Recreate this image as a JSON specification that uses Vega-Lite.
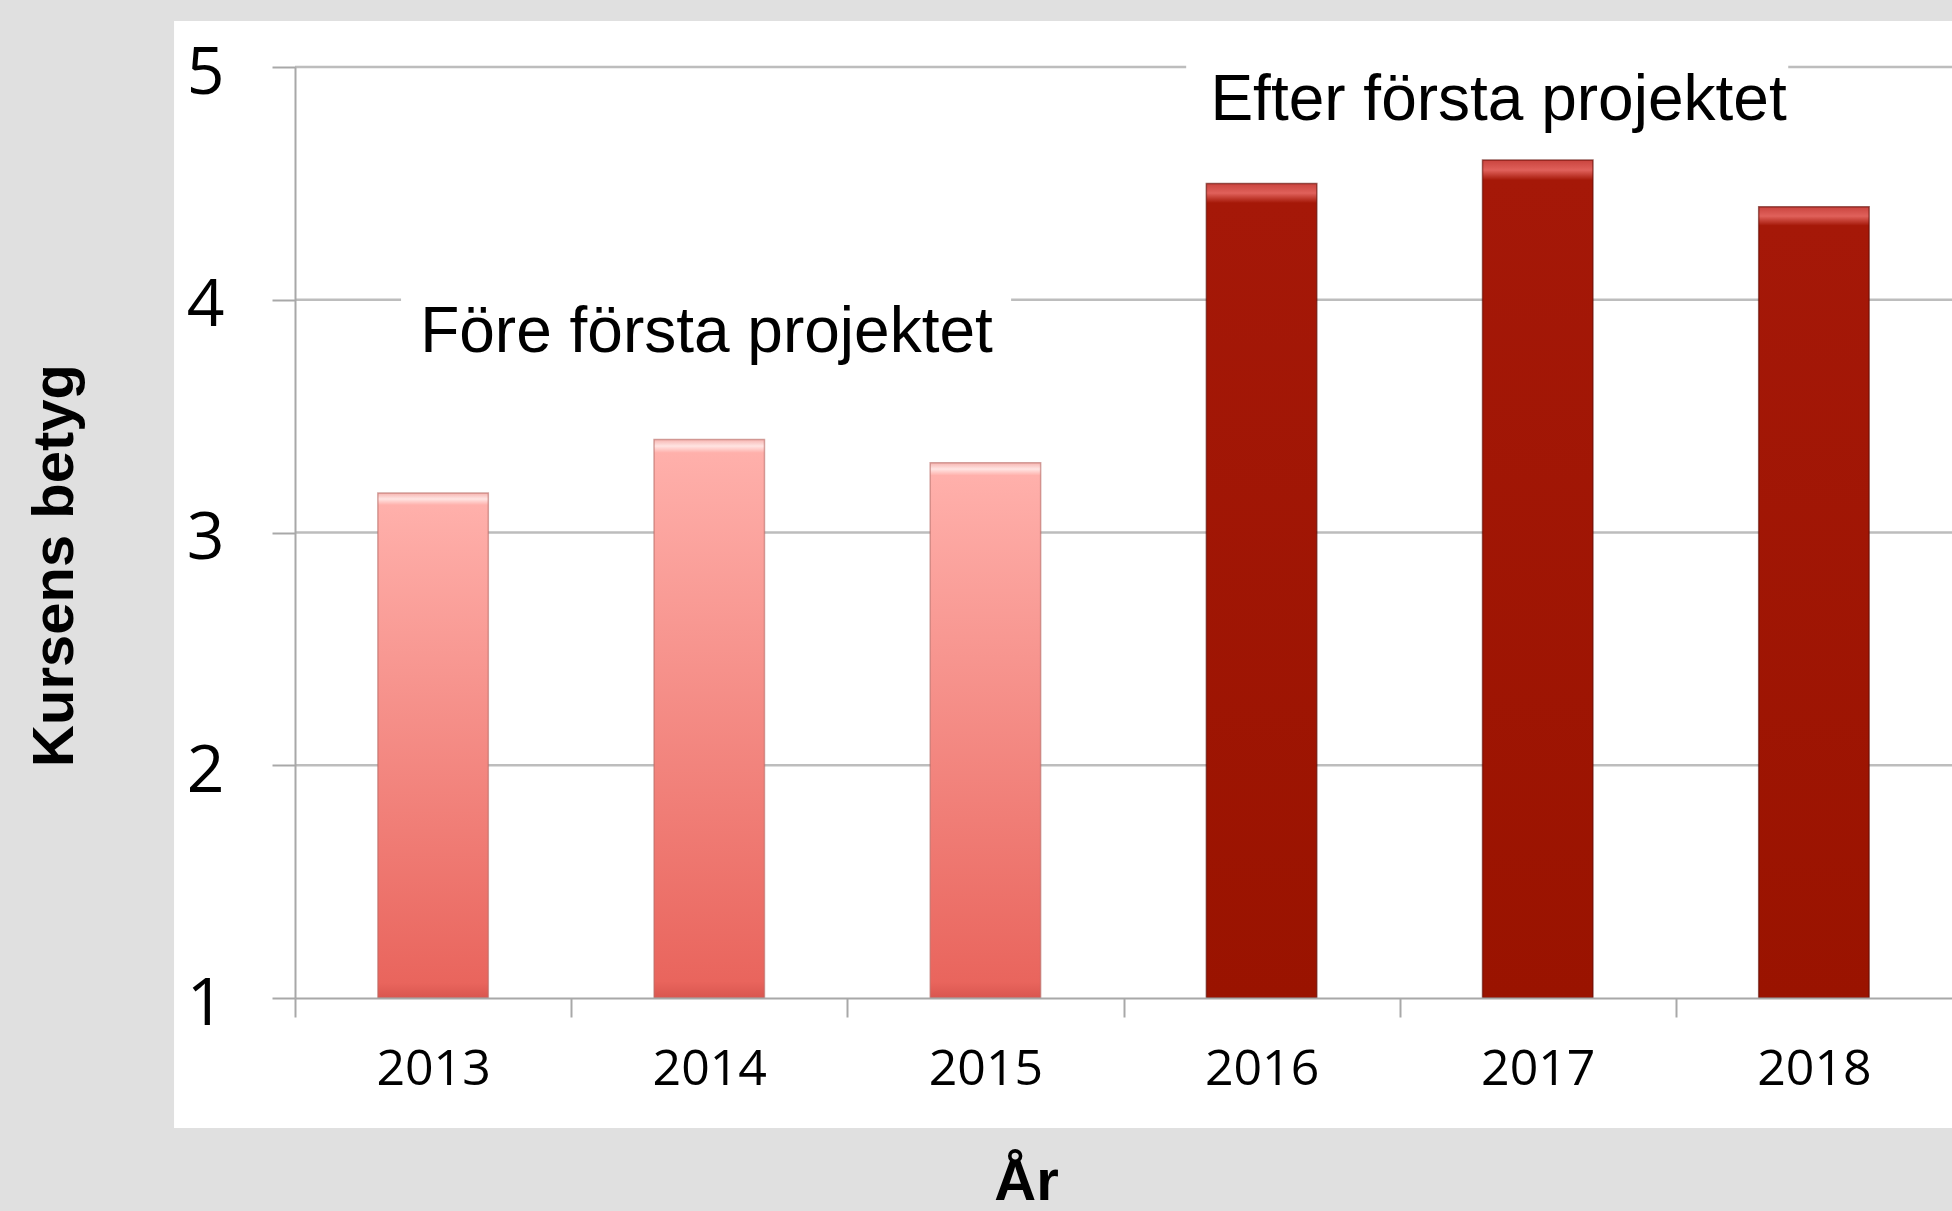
{
  "$schema": "https://vega.github.io/schema/vega-lite/v6.json",
  "width": 1657,
  "height": 931,
  "autosize": {"type": "none"},
  "padding": {"left": 295, "top": 67, "right": 0, "bottom": 213},
  "background": "#e0e0e0",
  "config": {
    "view": {"stroke": null},
    "axis": {
      "grid": false,
      "domainColor": "#a8a8a8",
      "domainWidth": 2,
      "tickColor": "#a8a8a8",
      "tickWidth": 2,
      "labelColor": "#000000",
      "titleColor": "#000000",
      "labelFont": "Open Sans",
      "titleFont": "Liberation Sans",
      "titleFontWeight": "bold",
      "titleFontSize": 58
    },
    "axisY": {
      "tickSize": 23,
      "labelFontSize": 66,
      "labelPadding": 48,
      "labelOffset": 6,
      "labelBaseline": "middle",
      "titleX": -223,
      "titleY": 498,
      "titleAngle": -90,
      "titleAlign": "center",
      "titleBaseline": "alphabetic"
    }
  },
  "datasets": {
    "betyg": [
      {"year": "2013", "value": 3.17, "fas": "före"},
      {"year": "2014", "value": 3.4, "fas": "före"},
      {"year": "2015", "value": 3.3, "fas": "före"},
      {"year": "2016", "value": 4.5, "fas": "efter"},
      {"year": "2017", "value": 4.6, "fas": "efter"},
      {"year": "2018", "value": 4.4, "fas": "efter"}
    ],
    "grid": [{"g": 2}, {"g": 3}, {"g": 4}, {"g": 5}],
    "notes": [
      {"label": "Före första projektet", "pos": 1.49, "level": 3.775, "from": 0.384, "to": 2.593, "lo": 3.68, "hi": 4.12},
      {"label": "Efter första projektet", "pos": 4.358, "level": 4.772, "from": 3.227, "to": 5.407, "lo": 4.68, "hi": 5.12}
    ]
  },
  "resolve": {"scale": {"x": "independent"}},
  "layer": [
    {
      "data": {"values": [{}]},
      "mark": {"type": "rect", "fill": "#ffffff"},
      "encoding": {
        "x": {"datum": -0.438, "type": "quantitative", "scale": {"domain": [0, 6], "nice": false, "zero": false}, "axis": null},
        "x2": {"datum": 6.2},
        "y": {"datum": 0.4415, "type": "quantitative", "scale": {"domain": [1, 5], "nice": false, "zero": false}, "title": "Kursens betyg", "axis": {"values": [1, 2, 3, 4, 5], "format": "d", "zindex": 1}},
        "y2": {"datum": 5.198}
      }
    },
    {
      "data": {"name": "grid"},
      "mark": {"type": "rule", "color": "#bdbdbd", "strokeWidth": 2.5},
      "encoding": {
        "y": {"field": "g", "type": "quantitative", "scale": {"domain": [1, 5], "nice": false, "zero": false}, "title": "Kursens betyg", "axis": {"values": [1, 2, 3, 4, 5], "format": "d", "zindex": 1}}
      }
    },
    {
      "data": {"name": "notes"},
      "mark": {"type": "rect", "fill": "#ffffff"},
      "encoding": {
        "x": {"field": "from", "type": "quantitative", "scale": {"domain": [0, 6], "nice": false, "zero": false}, "axis": null},
        "x2": {"field": "to"},
        "y": {"field": "lo", "type": "quantitative", "scale": {"domain": [1, 5], "nice": false, "zero": false}, "title": "Kursens betyg", "axis": {"values": [1, 2, 3, 4, 5], "format": "d", "zindex": 1}},
        "y2": {"field": "hi"}
      }
    },
    {
      "data": {"name": "betyg"},
      "layer": [
        {
          "transform": [{"filter": "datum.fas === 'före'"}],
          "mark": {
            "type": "bar",
            "fill": {
              "gradient": "linear", "x1": 0, "y1": 0, "x2": 0, "y2": 1,
              "stops": [
                {"offset": 0, "color": "#f6b4b0"},
                {"offset": 0.012, "color": "#ffe4e2"},
                {"offset": 0.024, "color": "#ffb0ab"},
                {"offset": 0.97, "color": "#e9655d"},
                {"offset": 1, "color": "#d9564f"}
              ]
            },
            "stroke": "#b86a66",
            "strokeWidth": 1.5,
            "strokeOpacity": 0.6
          },
          "encoding": {
            "x": {
              "field": "year", "type": "nominal",
              "scale": {"paddingInner": 0.6, "paddingOuter": 0.3},
              "title": "År",
              "axis": {
                "zindex": 1,
                "tickOffset": -138.08, "labelOffset": 138.08,
                "tickSize": 19, "labelFontSize": 50, "labelPadding": 52,
                "labelBaseline": "middle", "labelAngle": 0,
                "titleX": 731, "titleY": 201, "titleAlign": "center", "titleBaseline": "alphabetic"
              }
            },
            "y": {"field": "value", "type": "quantitative", "scale": {"domain": [1, 5], "nice": false, "zero": false}, "title": "Kursens betyg", "axis": {"values": [1, 2, 3, 4, 5], "format": "d", "zindex": 1}},
            "y2": {"datum": 1}
          }
        },
        {
          "transform": [{"filter": "datum.fas === 'efter'"}],
          "mark": {
            "type": "bar",
            "fill": {
              "gradient": "linear", "x1": 0, "y1": 0, "x2": 0, "y2": 1,
              "stops": [
                {"offset": 0, "color": "#c9443e"},
                {"offset": 0.012, "color": "#e0615b"},
                {"offset": 0.024, "color": "#a51808"},
                {"offset": 1, "color": "#9a1300"}
              ]
            },
            "stroke": "#5e0900",
            "strokeWidth": 1.5,
            "strokeOpacity": 0.6
          },
          "encoding": {
            "x": {
              "field": "year", "type": "nominal",
              "scale": {"paddingInner": 0.6, "paddingOuter": 0.3},
              "title": "År",
              "axis": {
                "zindex": 1,
                "tickOffset": -138.08, "labelOffset": 138.08,
                "tickSize": 19, "labelFontSize": 50, "labelPadding": 52,
                "labelBaseline": "middle", "labelAngle": 0,
                "titleX": 731, "titleY": 201, "titleAlign": "center", "titleBaseline": "alphabetic"
              }
            },
            "y": {"field": "value", "type": "quantitative", "scale": {"domain": [1, 5], "nice": false, "zero": false}, "title": "Kursens betyg", "axis": {"values": [1, 2, 3, 4, 5], "format": "d", "zindex": 1}},
            "y2": {"datum": 1}
          }
        }
      ]
    },
    {
      "data": {"name": "notes"},
      "mark": {"type": "text", "font": "Liberation Sans", "fontSize": 64, "color": "#000000", "align": "center", "baseline": "alphabetic"},
      "encoding": {
        "x": {"field": "pos", "type": "quantitative", "scale": {"domain": [0, 6], "nice": false, "zero": false}, "axis": null},
        "y": {"field": "level", "type": "quantitative", "scale": {"domain": [1, 5], "nice": false, "zero": false}, "title": "Kursens betyg", "axis": {"values": [1, 2, 3, 4, 5], "format": "d", "zindex": 1}},
        "text": {"field": "label"}
      }
    }
  ]
}
